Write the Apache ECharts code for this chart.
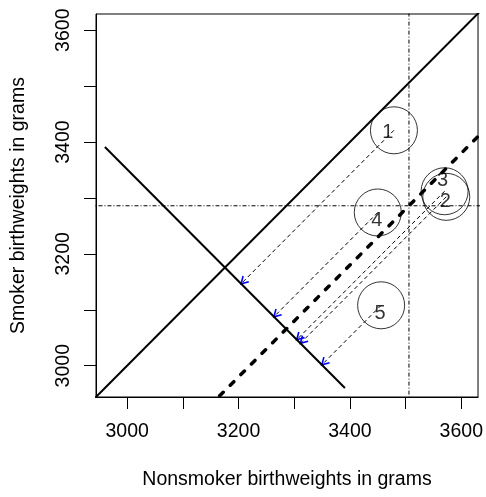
<!DOCTYPE html>
<html>
<head>
<meta charset="utf-8">
<title>Birthweights</title>
<script src="https://cdn.jsdelivr.net/npm/echarts@6/dist/echarts.min.js"></script>
<style>
html, body { margin: 0; padding: 0; background: #fff; }
#chart { width: 486px; height: 497px; }
</style>
</head>
<body>
<div id="chart"></div>
<script>
// pair numbers
var pairLabels = ['1', '2', '3', '4', '5'];
// nonsmoker birthweight of each pair (x)
var nonsmokerWeights = [3479, 3573, 3570, 3450, 3456];
// smoker birthweight of each pair (y)
var smokerWeights = [3421, 3302, 3312, 3274, 3108];
// reference lines
var meanNonsmoker = 3506;
var meanSmoker = 3286;
// ends of the line the pairs are projected on
var crossX = [2960, 3391];
var crossY = [3391, 2960];
// axis ticks
var tickValues = [3000, 3100, 3200, 3300, 3400, 3500, 3600];
var tickLabels = [3000, 3200, 3400, 3600];

var FONT = 'Liberation Sans, Arial, Helvetica, sans-serif';
var FS = 19.5;
var labelShift = [[-6, 2], [-1, 5], [-2, -11], [-1, 8], [-1, 8]];

var crossSum = crossX[0] + crossY[0];
var diff = meanSmoker - meanNonsmoker;

var pairs = [];
for (var i = 0; i < pairLabels.length; i++) {
	pairs.push({
		value: [nonsmokerWeights[i], smokerWeights[i]],
		name: pairLabels[i],
		label: { offset: labelShift[i] }
	});
}
var arrowData = [];
for (var j = 0; j < pairLabels.length; j++) {
	var x = nonsmokerWeights[j], y = smokerWeights[j];
	arrowData.push([x, y, (crossSum + x - y) / 2, (crossSum - x + y) / 2]);
}

function axisCfg(name, min, max, rot, margin, gap) {
	return {
		type: 'value',
		min: min,
		max: max,
		name: name,
		nameLocation: 'middle',
		nameGap: gap,
		nameTextStyle: { color: '#000', fontSize: FS, fontFamily: FONT },
		splitLine: { show: false },
		axisLine: { show: true, onZero: false, lineStyle: { color: '#000', width: 1 } },
		axisTick: { show: true, length: 12, customValues: tickValues, lineStyle: { color: '#000', width: 1 } },
		axisLabel: {
			customValues: tickLabels,
			rotate: rot,
			margin: margin,
			color: '#000',
			fontSize: FS,
			fontFamily: FONT,
			formatter: function (v) { return String(v); }
		}
	};
}

function plainLine(data, width, type, cap) {
	return {
		type: 'line',
		data: data,
		symbol: 'none',
		silent: true,
		clip: true,
		lineStyle: { color: '#000', width: width, type: type, cap: cap || 'butt' }
	};
}

var chart = echarts.init(document.getElementById('chart'));
var option = {
	animation: false,
	backgroundColor: '#fff',
	grid: { left: 96, top: 14, width: 383, height: 383, show: true, borderColor: '#000', borderWidth: 1 },
	xAxis: axisCfg('Nonsmoker birthweights in grams', 2944, 3630, 0, 25, 73),
	yAxis: axisCfg('Smoker birthweights in grams', 2944, 3629, 90, 22, 67),
	series: [
		plainLine([[2900, 2900], [3700, 3700]], 2, 'solid'),
		plainLine([[crossX[0], crossY[0]], [crossX[1], crossY[1]]], 2, 'solid'),
		plainLine([[2900, 2900 + diff], [3700, 3700 + diff]], 3.5, [5, 10], 'round'),
		plainLine([[meanNonsmoker, 2900], [meanNonsmoker, 3700]], 1, [4, 2, 1, 2]),
		plainLine([[2900, meanSmoker], [3700, meanSmoker]], 1, [4, 2, 1, 2]),
		{
			type: 'custom',
			silent: true,
			data: arrowData,
			renderItem: function (params, api) {
				var p0 = api.coord([api.value(0), api.value(1)]);
				var p1 = api.coord([api.value(2), api.value(3)]);
				var dx = p1[0] - p0[0], dy = p1[1] - p0[1];
				var len = Math.sqrt(dx * dx + dy * dy);
				var ux = dx / len, uy = dy / len;
				var hl = 8, a = 30 * Math.PI / 180;
				function arm(s) {
					var c = Math.cos(s * a), sn = Math.sin(s * a);
					var rx = ux * c - uy * sn, ry = ux * sn + uy * c;
					return [p1[0] - hl * rx, p1[1] - hl * ry];
				}
				return {
					type: 'group',
					children: [
						{ type: 'line', shape: { x1: p0[0], y1: p0[1], x2: p1[0], y2: p1[1] },
							style: { stroke: '#000', lineWidth: 1, lineDash: [4, 3] } },
						{ type: 'polyline', shape: { points: [arm(1), p1, arm(-1)] },
							style: { stroke: '#0000ff', lineWidth: 1.6, fill: null } }
					]
				};
			}
		},
		{
			type: 'scatter',
			silent: true,
			data: pairs,
			symbol: 'circle',
			symbolSize: 47,
			itemStyle: { color: 'rgba(0,0,0,0)', borderColor: '#000', borderWidth: 1 },
			label: {
				show: true,
				position: 'inside',
				formatter: '{b}',
				color: '#000',
				fontSize: 20,
				fontFamily: FONT
			}
		}
	]
};
chart.setOption(option);
</script>
</body>
</html>
